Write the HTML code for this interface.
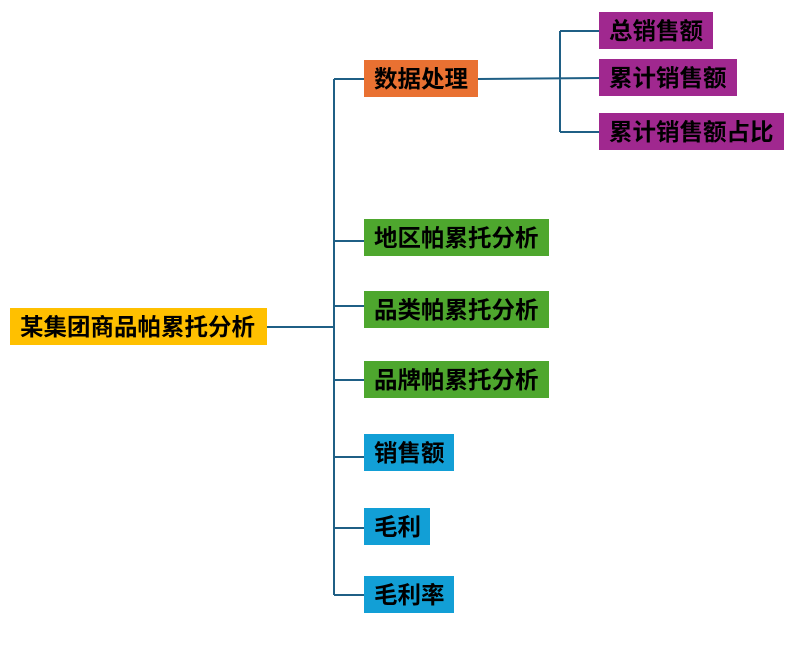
<!DOCTYPE html>
<html><head><meta charset="utf-8"><style>
body{margin:0;width:800px;height:646px;background:#fff;position:relative;overflow:hidden;font-family:"Liberation Sans","Noto Sans CJK SC",sans-serif}
.b{position:absolute;height:37px;line-height:39px;font-size:23.5px;font-weight:bold;color:#000;padding-left:10px;box-sizing:border-box;white-space:nowrap}
.o{background:#e97132}.p{background:#a0288f}.g{background:#4ea72e}.c{background:#129fd6}.y{background:#ffc000}
</style></head><body>
<svg width="800" height="646" style="position:absolute;left:0;top:0" fill="none" stroke="#1f5f85" stroke-width="2">
<path d="M267 327H334M334 79V595M334 79H364M334 241H364M334 306H364M334 380H364M334 457H364M334 528H364M334 595H364"/>
<path d="M478 79L599 78M560 31V132M560 31H599M560 132H599"/>
</svg>
<div class="b y" style="left:10px;top:308px;width:257px">某集团商品帕累托分析</div>
<div class="b o" style="left:364px;top:60px;width:114px">数据处理</div>
<div class="b p" style="left:599px;top:12px;width:114px">总销售额</div>
<div class="b p" style="left:599px;top:59px;width:138px">累计销售额</div>
<div class="b p" style="left:599px;top:113px;width:185px">累计销售额占比</div>
<div class="b g" style="left:364px;top:219px;width:185px">地区帕累托分析</div>
<div class="b g" style="left:364px;top:291px;width:185px">品类帕累托分析</div>
<div class="b g" style="left:364px;top:361px;width:185px">品牌帕累托分析</div>
<div class="b c" style="left:364px;top:434px;width:90px">销售额</div>
<div class="b c" style="left:364px;top:508px;width:66px">毛利</div>
<div class="b c" style="left:364px;top:576px;width:90px">毛利率</div>
</body></html>
